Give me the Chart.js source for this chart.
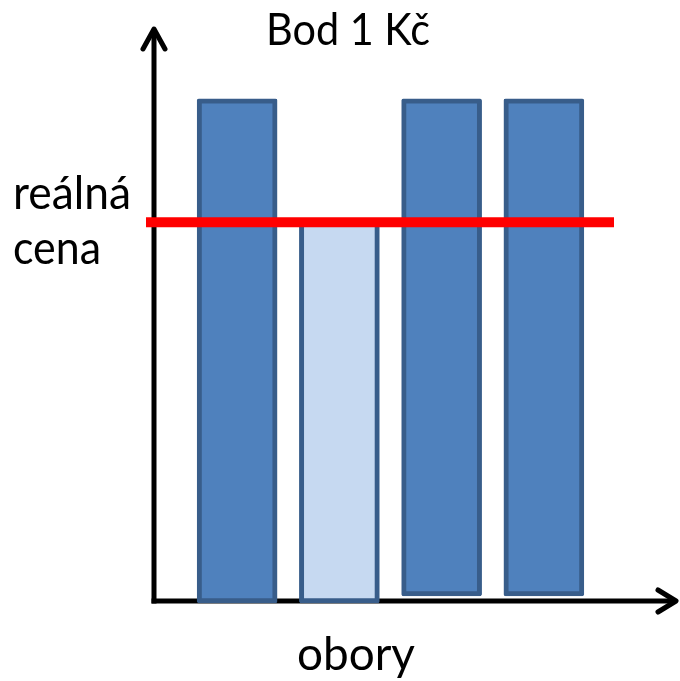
<!DOCTYPE html>
<html lang="cs">
<head>
<meta charset="utf-8">
<title>Bod 1 Kč</title>
<script src="https://cdn.jsdelivr.net/npm/chart.js@4/dist/chart.umd.min.js"></script>
<style>
    html, body { margin: 0; padding: 0; background: #ffffff; }
    #wrap { width: 680px; height: 681px; position: relative; }
</style>
</head>
<body>
<div id="wrap"><canvas id="price-chart"></canvas></div>
<script>
// ============================================
// Data
// ============================================
const categories = ['A', 'B', 'C', 'D'];
const barBottoms = [-0.35, -0.35, 0.9, 0.9];
const barTops = [87.5, 66, 87.5, 87.5];
const realPrice = 66;

const titleText = 'Bod 1 Kč';
const priceLabel = ['reálná', 'cena'];
const xAxisLabel = 'obory';

// Colors
const colors = {
    bar: '#4f81bd',
    barLight: '#c6d9f1',
    border: '#385d8a',
    axis: '#000000',
    price: '#ff0000',
    text: '#000000'
};
const barFills = [colors.bar, colors.barLight, colors.bar, colors.bar];

const fontFamily = 'Lato, "Open Sans", sans-serif';

// ============================================
// Plugins: arrows, price line, texts
// ============================================
function drawArrowHead(ctx, x, y, dx, dy) {
    ctx.beginPath();
    ctx.moveTo(x + dx[0], y + dy[0]);
    ctx.lineTo(x, y);
    ctx.lineTo(x + dx[1], y + dy[1]);
    ctx.stroke();
}

const axesPlugin = {
    id: 'arrowAxes',
    beforeDatasetsDraw(chart) {
        const { ctx, chartArea, scales } = chart;
        const x0 = chartArea.left - 32;
        const y0 = scales.y.getPixelForValue(0);
        const top = chartArea.top;
        const right = chartArea.right + 83;

        ctx.save();
        ctx.strokeStyle = colors.axis;
        ctx.lineWidth = 5;
        ctx.lineCap = 'butt';
        ctx.lineJoin = 'miter';

        // y axis
        ctx.beginPath();
        ctx.moveTo(x0, y0 + 2.5);
        ctx.lineTo(x0, top + 2);
        ctx.stroke();
        // x axis
        ctx.beginPath();
        ctx.moveTo(x0 - 2.5, y0);
        ctx.lineTo(right - 2, y0);
        ctx.stroke();

        ctx.lineCap = 'round';
        ctx.lineJoin = 'round';
        drawArrowHead(ctx, x0, top + 2, [-11, 11], [20, 20]);
        drawArrowHead(ctx, right - 2, y0, [-18, -18], [-11, 11]);
        ctx.restore();
    }
};

const priceLinePlugin = {
    id: 'priceLine',
    afterDatasetsDraw(chart) {
        const { ctx, chartArea, scales } = chart;
        const y = scales.y.getPixelForValue(realPrice);
        ctx.save();
        ctx.strokeStyle = colors.price;
        ctx.lineWidth = 10;
        ctx.beginPath();
        ctx.moveTo(chartArea.left - 40, y);
        ctx.lineTo(chartArea.right + 19, y);
        ctx.stroke();
        ctx.restore();
    }
};

const textPlugin = {
    id: 'slideTexts',
    afterDraw(chart) {
        const { ctx, chartArea, scales } = chart;
        const yPrice = scales.y.getPixelForValue(realPrice);
        ctx.save();
        ctx.fillStyle = colors.text;
        ctx.textBaseline = 'alphabetic';

        // title
        ctx.font = '45px ' + fontFamily;
        ctx.textAlign = 'center';
        ctx.fillText(titleText, 348, chartArea.top + 18, 164);

        // price label
        ctx.font = '46px ' + fontFamily;
        ctx.textAlign = 'left';
        ctx.fillText(priceLabel[0], 13, yPrice - 13, 118);
        ctx.fillText(priceLabel[1], 13, yPrice + 42, 88);

        // x axis label
        ctx.textAlign = 'center';
        ctx.fillText(xAxisLabel, 356, scales.y.getPixelForValue(0) + 69, 118);
        ctx.restore();
    }
};

// ============================================
// Chart
// ============================================
const floatingData = categories.map((c, i) => [barBottoms[i], barTops[i]]);

new Chart(document.getElementById('price-chart'), {
    type: 'bar',
    data: {
        labels: categories,
        datasets: [{
            data: floatingData,
            backgroundColor: barFills,
            borderColor: colors.border,
            borderWidth: 5,
            borderRadius: 2,
            borderSkipped: false,
            barThickness: 80,
            clip: false
        }]
    },
    options: {
        responsive: true,
        maintainAspectRatio: false,
        animation: false,
        events: [],
        layout: {
            padding: { left: 186, right: 85, top: 27, bottom: 80 }
        },
        plugins: {
            legend: { display: false },
            title: { display: false },
            tooltip: { enabled: false }
        },
        scales: {
            x: { type: 'category', display: false, offset: true },
            y: { type: 'linear', display: false, min: 0, max: 100 }
        }
    },
    plugins: [axesPlugin, priceLinePlugin, textPlugin]
});
</script>
</body>
</html>
